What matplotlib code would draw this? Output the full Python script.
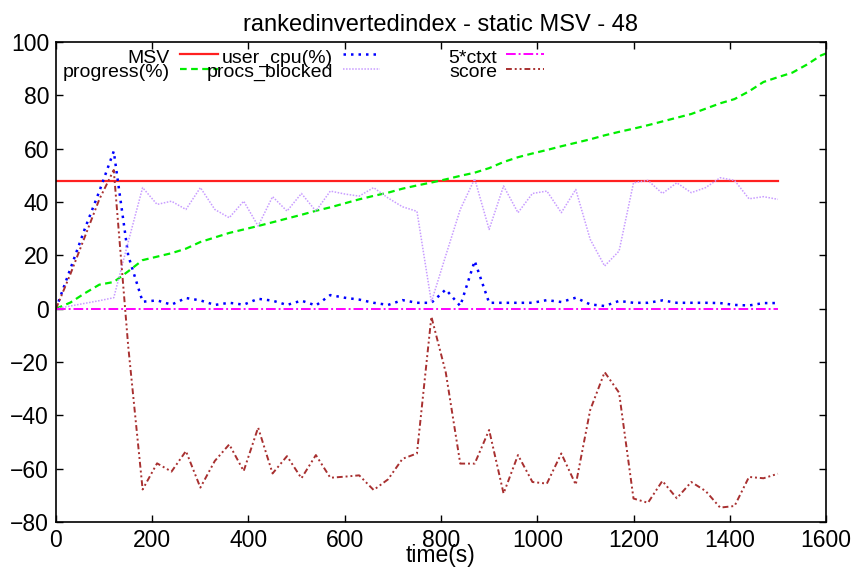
import numpy as np
import matplotlib
matplotlib.use('Agg')
import matplotlib.pyplot as plt

# sample times (s)
t = list(range(0, 1501, 30))
t_prog = list(range(0, 1591, 30)) + [1600]

msv = 48
ctxt5 = [0.0] * len(t)

user_cpu = [0, 15, 30, 44, 59, 20, 2.6, 3.1, 1.5, 4, 3.1, 1.4, 2.2, 1.5, 3.7, 3, 1.4, 3, 1.2, 5.1,
            4.1, 3.4, 2.2, 1.4, 3.2, 2.2, 2.2, 7.2, 1, 17.9, 2.2, 2.2, 2.2, 2.2, 3.2, 2.5, 4.1, 1.6,
            1, 2.9, 2.2, 2.2, 3.1, 2.2, 2.2, 2.2, 2.1, 1.4, 1.2, 2.1, 2.1]

procs_blocked = [0, 1, 2, 3, 4.1, 25, 45.4, 39.1, 40.3, 37.2, 45.4, 37.2, 34.1, 40.3, 31, 42, 36.6,
                 43.2, 36.6, 44.1, 43, 42.2, 45.4, 41.5, 38.2, 36.5, 2.5, 20, 37.2, 48.7, 29.7, 46,
                 36, 43.2, 44.1, 36, 44.7, 26, 16, 21.6, 47.2, 48.1, 43.2, 47.2, 43.5, 45.4, 49.1,
                 48.1, 41.2, 42, 41]

score = [0, 13, 27, 41, 52, -14, -67.8, -58, -61.1, -53.4, -67.1, -57.1, -50.9, -60.9, -44.6, -61.8,
         -55.3, -63.6, -54.9, -63.4, -63, -62.5, -68, -64, -56.3, -54.3, -3, -24, -58.1, -58.1,
         -45.5, -69.3, -54.9, -65, -65.6, -54.3, -66, -38, -23.8, -31.5, -71.2, -72.8, -64.6,
         -71.1, -65, -68.4, -74.6, -74, -63.1, -63.6, -61.9]

progress = [0, 2.3, 5.8, 9, 10, 14, 18.2, 19.5, 20.8, 22.5, 25, 26.7, 28.4, 29.7, 31, 32.4, 33.8,
            35.2, 36.7, 38, 39.5, 41, 42.3, 43.5, 45, 46.2, 47.3, 48.5, 49.8, 51, 52.7, 55, 56.8,
            58.2, 59.5, 60.9, 62.2, 63.5, 65, 66.3, 67.5, 68.8, 70.2, 71.6, 73, 75, 77, 78.6, 81.5,
            85, 86.8, 88.5, 91.5, 95, 95.7]

xticks = np.arange(0, 1601, 200)
yticks = np.arange(-80, 101, 20)

plt.rcParams['font.family'] = ['Liberation Sans', 'DejaVu Sans']

fig = plt.figure(figsize=(8.57, 5.67), dpi=100)
ax = fig.add_axes([56/857, 1-522/567, 770/857, 480/567])

styles = {
    'MSV': dict(color='#ff2020', lw=1.6, ls='-'),
    'progress(%)': dict(color='#00ee00', lw=1.6, ls=(0, (3, 2))),
    'user_cpu(%)': dict(color='#0000ff', lw=1.8, ls=(0, (1, 2))),
    'procs_blocked': dict(color='#c89cff', lw=1.1, ls=(0, (1, 1))),
    '5*ctxt': dict(color='#ff00ff', lw=1.4, ls=(0, (5, 1.5, 1, 1.5))),
    'score': dict(color='#a83030', lw=1.4, ls=(0, (3, 1.5, 1, 1.5, 1, 1.5))),
}

ax.plot([t[0], t[-1]], [msv, msv], **styles['MSV'])
ax.plot(t, user_cpu, **styles['user_cpu(%)'])
ax.plot(t_prog, progress, **styles['progress(%)'])
ax.plot(t, procs_blocked, **styles['procs_blocked'])
ax.plot(t, ctxt5, **styles['5*ctxt'])
ax.plot(t, score, **styles['score'])

ax.set_xlim(0, 1600)
ax.set_ylim(-80, 100)
ax.set_xticks(xticks)
ax.set_yticks(yticks)
ax.tick_params(direction='in', length=5, width=1, top=True, right=True, labelsize=16.5, pad=5)
for s in ax.spines.values():
    s.set_linewidth(1.2)
ax.set_title('rankedinvertedindex - static MSV - 48', fontsize=17, pad=8)
ax.set_xlabel('time(s)', fontsize=16.5, labelpad=-5.5)

# gnuplot-like key: label right-aligned, sample line to its right
key_names = [['MSV', 'user_cpu(%)', '5*ctxt'], ['progress(%)', 'procs_blocked', 'score']]
key_text_x = [0.148, 0.36, 0.573]
key_line_x = [(0.161, 0.21), (0.373, 0.421), (0.584, 0.634)]
key_y = [0.966, 0.936]
for r in range(2):
    for c in range(3):
        name = key_names[r][c]
        ax.text(key_text_x[c], key_y[r], name, transform=ax.transAxes, ha='right', va='center',
                fontsize=14)
        ax.plot(key_line_x[c], [key_y[r] + 0.008, key_y[r] + 0.008], transform=ax.transAxes,
                clip_on=False, **styles[name])

fig.savefig('out.png', dpi=100)
